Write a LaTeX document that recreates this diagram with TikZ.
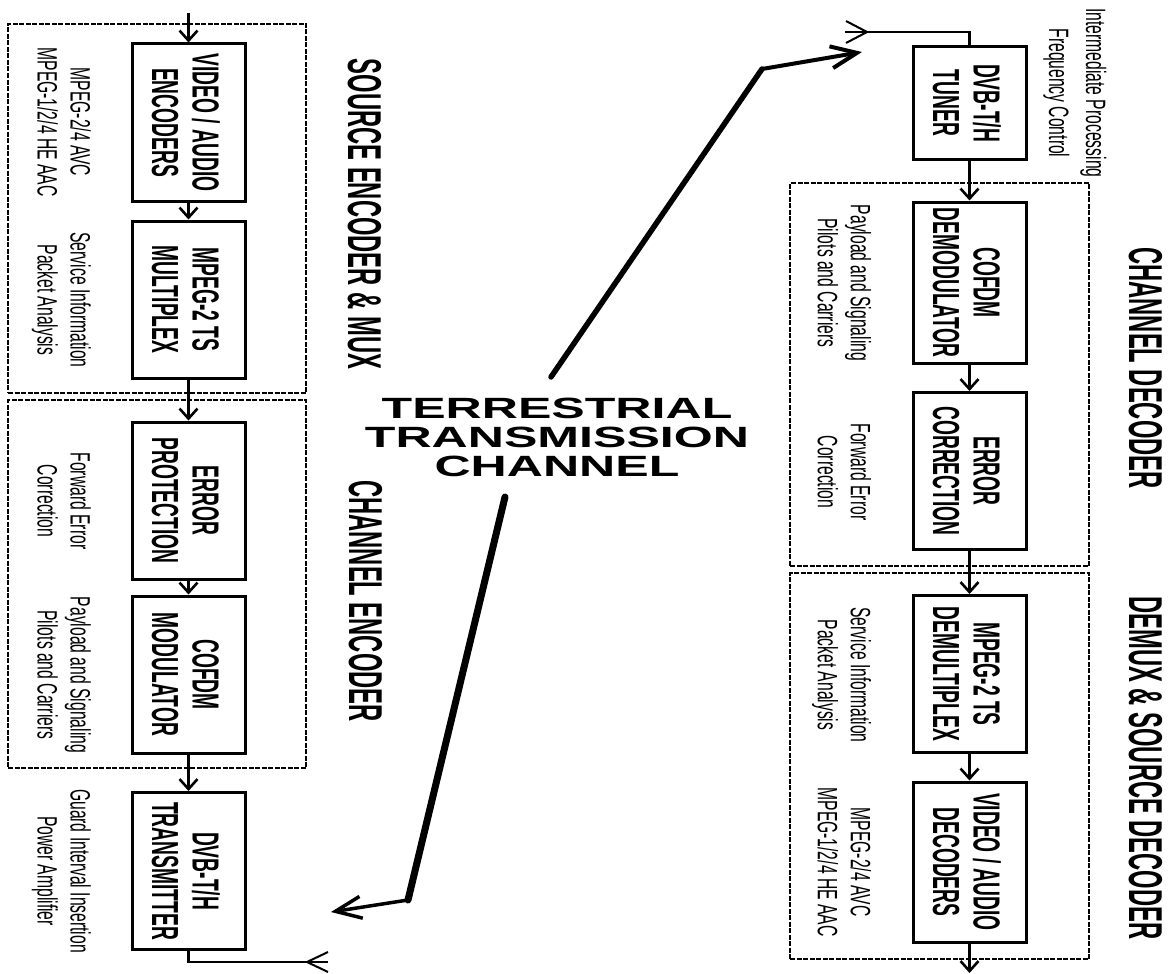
\documentclass[tikz,border=0pt]{standalone}
\usepackage{fontspec}
\setmainfont{Liberation Sans}
\usepackage{graphicx}
\usetikzlibrary{arrows.meta}
\newcommand{\boxfont}{\fontsize{37.7}{40.5}\selectfont\bfseries}
\newcommand{\annfont}{\fontsize{28}{33}\selectfont}
\newcommand{\ifcfont}{\fontsize{28}{37}\selectfont}
\newcommand{\headfont}{\fontsize{47.5}{50}\selectfont\bfseries}
\newcommand{\ttcfont}{\fontsize{29.3}{29}\selectfont\bfseries}
\newcommand{\sqz}[2]{\rotatebox{-90}{\scalebox{#1}[1]{\begin{tabular}{@{}c@{}}#2\end{tabular}}}}
\begin{document}
\begin{tikzpicture}[x=1pt,y=-1pt,
  blk/.style={draw, line width=3pt, minimum width=113pt, minimum height=157pt, inner sep=0pt},
  grp/.style={draw, line width=2.2pt, dash pattern=on 5pt off 1.5pt, inner sep=0pt},
  btxt/.style={font=\boxfont, inner sep=0pt},
  ann/.style={font=\annfont, inner sep=0pt},
  head/.style={font=\headfont, inner sep=0pt},
  flow/.style={line width=2.6pt, -{Straight Barb[length=10pt,width=18pt]}},
  plain/.style={line width=2.6pt},
  fork/.style={line width=2pt},
  wave/.style={line cap=round},
  wavetip/.style={line width=3.5pt, -{Straight Barb[length=26pt,width=22pt]}}]
\useasboundingbox (0,0) rectangle (1170,974);

% dashed groups
\node[grp, minimum width=298pt, minimum height=369pt] (srcg) at (157,208.5) {};
\node[grp, minimum width=298pt, minimum height=368pt] (cencg) at (157,584) {};
\node[grp, minimum width=299pt, minimum height=383pt] (cdecg) at (939.5,374.5) {};
\node[grp, minimum width=299pt, minimum height=386pt] (dmxg) at (939.5,766) {};

% left blocks
\node[blk] (venc) at (188.5,122.5) {};
\node[blk] (mux) at (188.5,299.5) {};
\node[blk] (errp) at (188.5,500.5) {};
\node[blk] (mod) at (188.5,674.5) {};
\node[blk] (tx) at (188.5,871) {};
\node[btxt] (vencT) at ([xshift=-8pt]venc.center) {\sqz{0.51}{VIDEO / AUDIO\\ENCODERS}};
\node[btxt] (muxT) at ([xshift=-8pt]mux.center) {\sqz{0.51}{MPEG-2 TS\\MULTIPLEX}};
\node[btxt] (errpT) at ([xshift=-8pt]errp.center) {\sqz{0.51}{ERROR\\PROTECTION}};
\node[btxt] (modT) at ([xshift=-8pt]mod.center) {\sqz{0.51}{COFDM\\MODULATOR}};
\node[btxt] (txT) at ([xshift=-8pt]tx.center) {\sqz{0.51}{DVB-T/H\\TRANSMITTER}};

% right blocks
\node[blk, minimum height=112pt] (tuner) at (969.5,103) {};
\node[blk, minimum height=161pt] (demod) at (969.5,282.5) {};
\node[blk] (errc) at (969.5,471) {};
\node[blk] (dmx) at (969.5,674) {};
\node[blk, minimum height=160pt] (dec) at (969.5,862) {};
\node[btxt] (tunerT) at ([xshift=-8pt]tuner.center) {\sqz{0.51}{DVB-T/H\\TUNER}};
\node[btxt] (demodT) at ([xshift=-8pt]demod.center) {\sqz{0.51}{COFDM\\DEMODULATOR}};
\node[btxt] (errcT) at ([xshift=-8pt]errc.center) {\sqz{0.51}{ERROR\\CORRECTION}};
\node[btxt] (dmxT) at ([xshift=-8pt]dmx.center) {\sqz{0.51}{MPEG-2 TS\\DEMULTIPLEX}};
\node[btxt] (decT) at ([xshift=-8pt]dec.center) {\sqz{0.51}{VIDEO / AUDIO\\DECODERS}};

% annotations left
\node[ann] (a1) at (60.6,122) {\sqz{0.56}{MPEG-2/4 AVC\\MPEG-1/2/4 HE AAC}};
\node[ann] (a2) at (60.6,300) {\sqz{0.56}{Service Information\\Packet Analysis}};
\node[ann] (a3) at (60.6,501) {\sqz{0.56}{Forward Error\\Correction}};
\node[ann] (a4) at (60.6,675) {\sqz{0.56}{Payload and Signaling\\Pilots and Carriers}};
\node[ann] (a5) at (60.6,871) {\sqz{0.56}{Guard Interval Insertion\\Power Amplifier}};
% annotations right
\node[ann, font=\ifcfont] (b0) at (1075,93) {\sqz{0.56}{Intermediate Processing\\Frequency Control}};
\node[ann] (b1) at (841,283) {\sqz{0.56}{Payload and Signaling\\Pilots and Carriers}};
\node[ann] (b2) at (841,472) {\sqz{0.56}{Forward Error\\Correction}};
\node[ann] (b3) at (841,675) {\sqz{0.56}{Service Information\\Packet Analysis}};
\node[ann] (b4) at (841,862) {\sqz{0.56}{MPEG-2/4 AVC\\MPEG-1/2/4 HE AAC}};

% headings
\node[head] (h1) at (358,214) {\sqz{0.50}{SOURCE ENCODER \& MUX}};
\node[head] (h2) at (359,601) {\sqz{0.50}{CHANNEL ENCODER}};
\node[head] (h3) at (1139,368) {\sqz{0.50}{CHANNEL DECODER}};
\node[head] (h4) at (1139,768) {\sqz{0.50}{DEMUX \& SOURCE DECODER}};

% channel label
\node[font=\ttcfont, inner sep=0pt] (ttc) at (557,441.4) {\scalebox{1.71}[1]{\begin{tabular}{@{}c@{}}TERRESTRIAL\\TRANSMISSION\\CHANNEL\end{tabular}}};

% flow arrows
\coordinate (in) at (188.5,13);
\draw[flow] (in) -- (venc.north);
\draw[flow] (venc.south) -- (mux.north);
\draw[flow] (mux.south) -- (errp.north);
\draw[flow] (errp.south) -- (mod.north);
\draw[flow] (mod.south) -- (tx.north);
\draw[flow] (tuner.south) -- (demod.north);
\draw[flow] (demod.south) -- (errc.north);
\draw[flow] (errc.south) -- (dmx.north);
\draw[flow] (dmx.south) -- (dec.north);
\coordinate (out) at (969.5,973);
\draw[flow] (dec.south) -- (out);

% antennas
\coordinate (txant) at (328,962);
\draw[plain] (tx.south) |- (txant);
\coordinate (txf1) at (328,952);
\coordinate (txf0) at (307,962);
\coordinate (txf2) at (328,972);
\draw[fork] (txf1) -- (txf0) -- (txf2);
\coordinate (rxant) at (845,32);
\draw[plain] (rxant) -| (tuner.north);
\coordinate (rxf1) at (846,21);
\coordinate (rxf0) at (867,32);
\coordinate (rxf2) at (846,43);
\draw[fork] (rxf1) -- (rxf0) -- (rxf2);

% transmission path
\coordinate (w1a) at (505,497);
\coordinate (w1b) at (408,900);
\coordinate (w1c) at (331,912);
\draw[wave, line width=7pt] (w1a) -- (w1b);
\draw[wavetip] (w1b) -- (w1c);
\coordinate (w2a) at (551,377);
\coordinate (w2b) at (762,69);
\coordinate (w2c) at (862,52);
\draw[wave, line width=5.5pt] (w2a) -- (w2b);
\draw[wavetip, line width=4pt] (w2b) -- (w2c);
\end{tikzpicture}
\end{document}
